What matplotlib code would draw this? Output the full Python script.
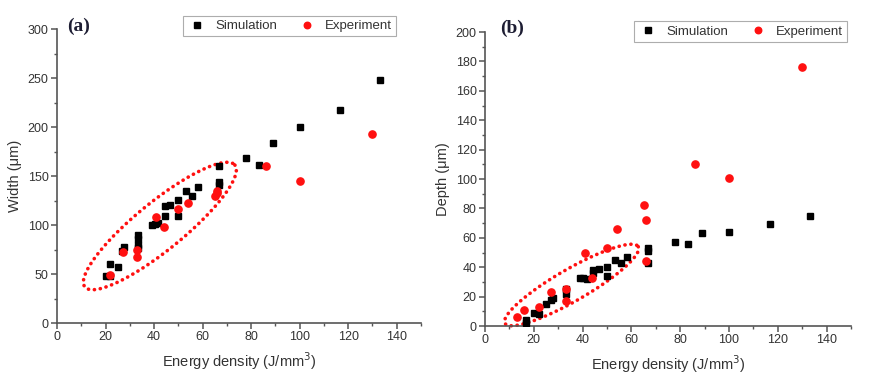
import numpy as np
import matplotlib
matplotlib.use("Agg")
import matplotlib.pyplot as plt
from matplotlib.ticker import MultipleLocator

plt.rcParams["font.family"] = ["Liberation Sans", "DejaVu Sans"]

# (a) melt pool width
sim_w_x = [20, 22, 22, 25, 26.7, 27.7, 33.3, 33.3, 33.3, 33.3, 39, 40.3, 41.7, 44.4, 44.4,
           46.7, 50, 50, 53.3, 55.6, 58.3, 66.7, 66.7, 66.7, 77.8, 83.3, 88.9, 100, 116.7, 133.3]
sim_w_y = [48, 60, 48, 57, 73, 78, 90, 86, 80, 77, 100, 101, 102, 109, 119,
           120, 126, 109, 135, 130, 139, 160, 144, 141, 168, 161, 184, 200, 217, 248]
exp_w_x = [22, 27, 33, 33, 41, 44, 50, 54, 65, 66, 66, 86, 100, 130]
exp_w_y = [49, 72, 75, 67, 108, 98, 116, 122, 130, 133, 135, 160, 145, 193]

# (b) melt pool depth
sim_d_x = [16.7, 16.7, 20, 22.2, 25, 27, 28, 33.3, 33.3, 39, 40.3, 41.7, 44.4, 44.4, 46.7,
           50, 50, 53.3, 55.6, 58.3, 66.7, 66.7, 66.7, 77.8, 83.3, 88.9, 100, 116.7, 133.3]
sim_d_y = [2, 4, 9, 8, 15, 18, 19, 22, 25, 33, 32.5, 32, 36, 38, 39,
           40, 34, 45, 43, 47, 53, 51, 43, 57, 56, 63, 64, 69.5, 75]
exp_d_x = [13, 16, 22, 27, 33, 33, 41, 44, 50, 54, 65, 66, 66, 86, 100, 130]
exp_d_y = [6, 11, 13, 23, 25, 17, 50, 32.5, 53, 66, 82, 72, 44, 110, 101, 176]

RED = "#ff1010"
TXT = "#333333"
SPINE = "#555555"


def ellipse(ax, cx, cy, a, b):
    t = np.linspace(0, 2 * np.pi, 400)
    xs = cx + a[0] * np.cos(t) + b[0] * np.sin(t)
    ys = cy + a[1] * np.cos(t) + b[1] * np.sin(t)
    ax.plot(xs, ys, color=RED, linestyle=(0, (0.05, 1.6)), dash_capstyle="round",
            linewidth=2.6, clip_on=False, zorder=1)


def style(ax, ymax, ymaj, ylabel):
    ax.set_xlim(0, 150)
    ax.set_ylim(0, ymax)
    ax.set_xticks(np.arange(0, 141, 20))
    ax.xaxis.set_minor_locator(MultipleLocator(10))
    ax.yaxis.set_major_locator(MultipleLocator(ymaj))
    ax.yaxis.set_minor_locator(MultipleLocator(ymaj / 2))
    for s in ["top", "right"]:
        ax.spines[s].set_visible(False)
    for s in ["left", "bottom"]:
        ax.spines[s].set_color(SPINE)
        ax.spines[s].set_linewidth(1.2)
    ax.tick_params(which="major", direction="out", length=4, width=1.1, color=SPINE,
                   labelsize=9, labelcolor=TXT, pad=2)
    ax.tick_params(which="minor", direction="out", length=2.5, width=1.0, color=SPINE)
    ax.set_xlabel("Energy density (J/mm$^3$)", fontsize=10.5, color=TXT, labelpad=5)
    ax.set_ylabel(ylabel, fontsize=10.5, color=TXT, labelpad=4)


fig = plt.figure(figsize=(8.86, 3.85), dpi=100)
ax1 = fig.add_axes([0.0643, 0.161, 0.4109, 0.7636])
ax2 = fig.add_axes([0.5474, 0.1532, 0.4131, 0.7636])

for ax, sx, sy, ex, ey in [(ax1, sim_w_x, sim_w_y, exp_w_x, exp_w_y),
                           (ax2, sim_d_x, sim_d_y, exp_d_x, exp_d_y)]:
    ax.plot(sx, sy, "s", color="black", ms=4.6, linestyle="none", label="Simulation", zorder=3)
    ax.plot(ex, ey, "o", color=RED, ms=5.2, linestyle="none", label="Experiment", zorder=4)

ellipse(ax1, 42.4, 99.0, (30.9, 62.2), (6.2, -19.0))
ellipse(ax2, 35.5, 27.9, (27.3, 26.1), (3.27, -9.4))

style(ax1, 300, 50, "Width (\u03bcm)")
style(ax2, 200, 20, "Depth (\u03bcm)")

for ax, box in [(ax1, (177 / 886, 1 - 36 / 385, 225 / 886, 20 / 385)),
                (ax2, (634 / 886, 1 - 42 / 385, 213 / 886, 21 / 385))]:
    leg = ax.legend(loc="center", bbox_to_anchor=box, bbox_transform=fig.transFigure,
                    ncol=2, fontsize=9.5, frameon=True, fancybox=False,
                    handletextpad=0.6, columnspacing=1.4, borderpad=0.3,
                    handlelength=1.6, markerscale=0.9)
    leg.get_frame().set_edgecolor("#999999")
    leg.get_frame().set_linewidth(0.8)
    for t in leg.get_texts():
        t.set_color(TXT)

fig.text(67 / 886, 1 - 26 / 385, "(a)", fontsize=14, fontweight="bold",
         family=["Liberation Serif", "DejaVu Serif"], color="#1d1d33", va="center")
fig.text(500 / 886, 1 - 28 / 385, "(b)", fontsize=14, fontweight="bold",
         family=["Liberation Serif", "DejaVu Serif"], color="#1d1d33", va="center")

fig.savefig("out.png", dpi=100)
